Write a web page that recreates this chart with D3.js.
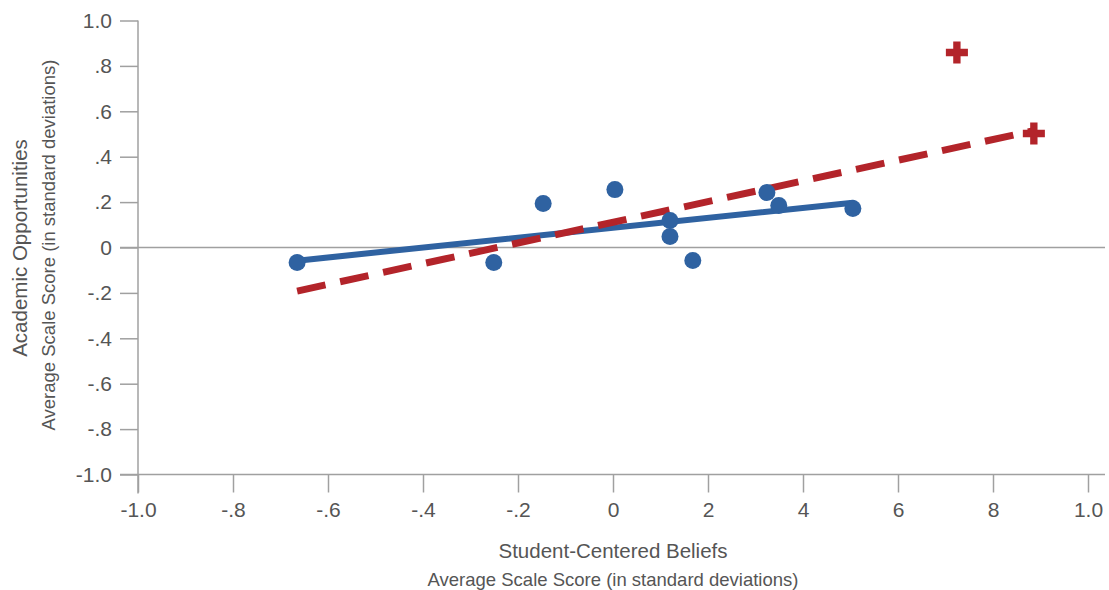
<!DOCTYPE html>
<html><head><meta charset="utf-8">
<script src="https://cdn.jsdelivr.net/npm/d3@7"></script>
<style>
body{margin:0;background:#fff;}
text{font-family:"Liberation Sans",Arial,sans-serif;fill:#555;}
</style></head><body>
<svg id="c" width="1109" height="590"></svg>
<script>
// Data
const xTickValues = [-1.0,-0.8,-0.6,-0.4,-0.2,0,0.2,0.4,0.6,0.8,1.0];
const xTickLabels = ["-1.0","-.8","-.6","-.4","-.2","0","2","4","6","8","1.0"];
const yTickValues = [1.0,0.8,0.6,0.4,0.2,0,-0.2,-0.4,-0.6,-0.8,-1.0];
const yTickLabels = ["1.0",".8",".6",".4",".2","0","-.2","-.4","-.6","-.8","-1.0"];
const blueX = [-0.665,-0.251,-0.147,0.004,0.120,0.120,0.168,0.324,0.349,0.505];
const blueY = [-0.066,-0.066,0.194,0.255,0.119,0.048,-0.057,0.242,0.185,0.172];
const redX = [0.724,0.886];
const redY = [0.859,0.502];
const blueFitX = [-0.665,0.505];
const blueFitY = [-0.058,0.197];
const redFitX = [-0.665,0.886];
const redFitY = [-0.192,0.515];

const svg = d3.select("#c");
const x = d3.scaleLinear().domain([-1,1]).range([138,1088]);
const y = d3.scaleLinear().domain([-1,1]).range([474.5,20.5]);
const axisColor = "#a0a0a0";
const tickFont = 21;

// zero line
svg.append("line").attr("x1",120).attr("x2",1105).attr("y1",y(0)).attr("y2",y(0))
  .attr("stroke",axisColor).attr("stroke-width",1.5);

// y axis
const yAxis = d3.axisLeft(y).tickValues(yTickValues).tickSize(18).tickPadding(8)
  .tickFormat((d,i)=>yTickLabels[i]);
const gy = svg.append("g").attr("transform","translate(138,0)").call(yAxis);
gy.select(".domain").attr("d",`M0,${y(1)}V${y(-1)+19}`).attr("stroke",axisColor).attr("stroke-width",1.5);
gy.selectAll(".tick line").attr("stroke",axisColor).attr("stroke-width",1.5);
gy.selectAll(".tick text").attr("font-size",tickFont).style("fill","#555");

// x axis
const xAxis = d3.axisBottom(x).tickValues(xTickValues).tickSize(18).tickPadding(10)
  .tickFormat((d,i)=>xTickLabels[i]);
const gx = svg.append("g").attr("transform",`translate(0,${y(-1)})`).call(xAxis);
gx.select(".domain").attr("d",`M120,0H1105`).attr("stroke",axisColor).attr("stroke-width",1.5);
gx.selectAll(".tick line").attr("stroke",axisColor).attr("stroke-width",1.5);
gx.selectAll(".tick text").attr("font-size",tickFont).style("fill","#555");
gy.attr("font-family",null); gx.attr("font-family",null);

// fit lines
const line = d3.line().x(d=>x(d[0])).y(d=>y(d[1]));
svg.append("path").datum(blueFitX.map((v,i)=>[v,blueFitY[i]])).attr("d",line)
  .attr("fill","none").attr("stroke","#2f62a1").attr("stroke-width",6).attr("stroke-linecap","round");
svg.append("path").datum(redFitX.map((v,i)=>[v,redFitY[i]])).attr("d",line)
  .attr("fill","none").attr("stroke","#b3242a").attr("stroke-width",7).attr("stroke-dasharray","29,15");

// points
svg.selectAll("circle.b").data(blueX.map((v,i)=>[v,blueY[i]])).enter().append("circle")
  .attr("class","b").attr("cx",d=>x(d[0])).attr("cy",d=>y(d[1])).attr("r",8.5).attr("fill","#2f62a1");
const cross = d3.symbol().type(d3.symbolCross).size(270);
svg.selectAll("path.r").data(redX.map((v,i)=>[v,redY[i]])).enter().append("path")
  .attr("class","r").attr("d",cross).attr("transform",d=>`translate(${x(d[0])},${y(d[1])})`).attr("fill","#b3242a");

// titles
svg.append("text").attr("x",613).attr("y",558).attr("text-anchor","middle").attr("font-size",20.5).text("Student-Centered Beliefs");
svg.append("text").attr("x",613).attr("y",586).attr("text-anchor","middle").attr("font-size",18.5).text("Average Scale Score (in standard deviations)");
svg.append("text").attr("transform","translate(27,248) rotate(-90)").attr("text-anchor","middle").attr("font-size",20.5).text("Academic Opportunities");
svg.append("text").attr("transform","translate(55,245) rotate(-90)").attr("text-anchor","middle").attr("font-size",18.5).text("Average Scale Score (in standard deviations)");
</script></body></html>
